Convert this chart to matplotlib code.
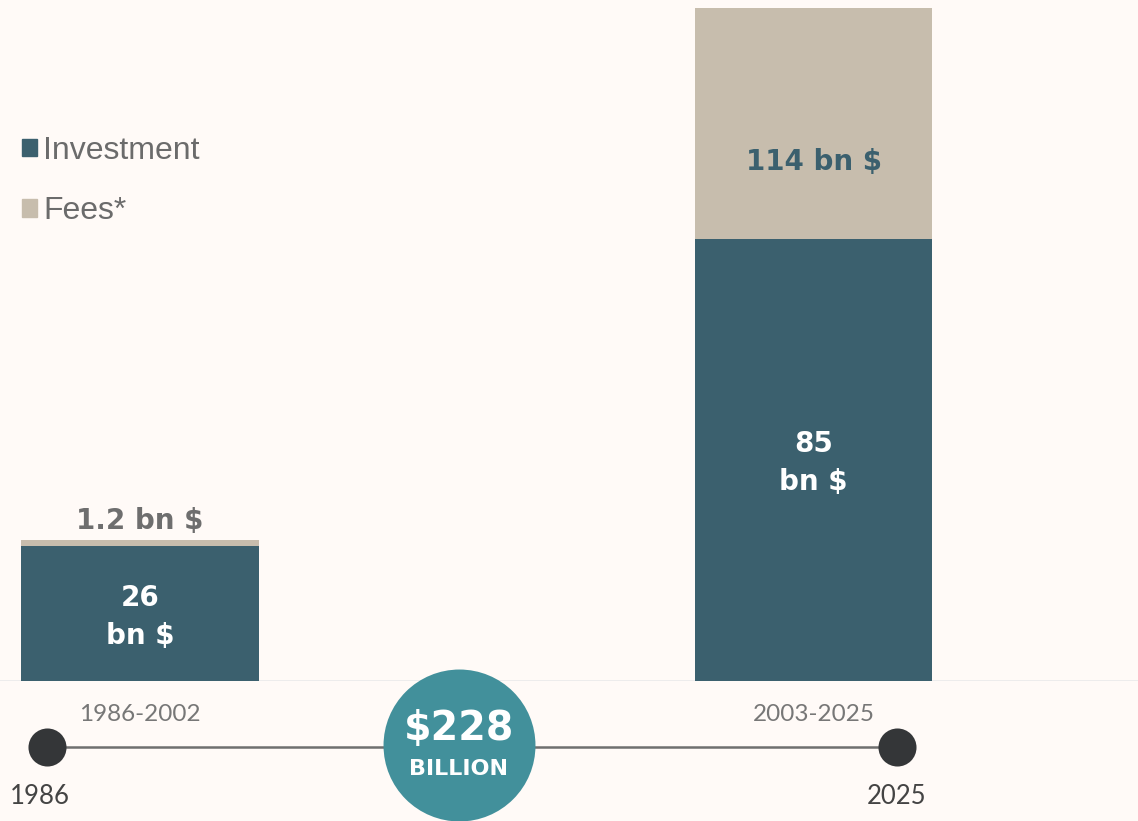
import matplotlib.pyplot as plt
from matplotlib.patches import Patch

# data
periods = ["1986-2002", "2003-2025"]
investment = [26, 85]
fees = [1.2, 114]
invest_labels = ["26\nbn $", "85\nbn $"]
fee_labels = ["1.2 bn $", "114 bn $"]
start_year, end_year = 1986, 2025
total_label = "$228"

c_inv = "#3b606e"
c_fee = "#c7bdad"
bg = "#fffaf7"

fig = plt.figure(figsize=(11.38, 8.21), dpi=100, facecolor=bg)
W, H = 1138, 821

# bar axes: baseline at y=681px, top at y=8px
ax = fig.add_axes([0, (H - 681) / H, 1, (681 - 8) / H])
ax.set_facecolor(bg)
x = [0, 1]
ax.bar(x, investment, width=0.352, color=c_inv, zorder=3)
ax.bar(x, fees, bottom=investment, width=0.352, color=c_fee, zorder=3)
ax.set_xlim(-0.2079, 1.4818)
ax.set_ylim(0, 129.4)
ax.axhline(0, color="#ebebeb", lw=2, zorder=2)
for s in ax.spines.values():
    s.set_visible(False)
ax.set_xticks([])
ax.set_yticks([])

bold = dict(family="DejaVu Sans", fontweight="bold", fontsize=20)
for i in x:
    ax.annotate(invest_labels[i], (i, investment[i] / 2), xytext=(0, -2.5),
                textcoords="offset points", ha="center", va="center",
                color="white", linespacing=1.45, zorder=4, **bold)
    ax.text(i, -6.4, periods[i], ha="center", va="center", color="#777777",
            family="Lato", fontsize=17.5, clip_on=False)
# fee labels
ax.annotate(fee_labels[0], (0, investment[0] + fees[0]), xytext=(0, 3.5),
            textcoords="offset points", ha="center", va="bottom",
            color="#6e6e6e", zorder=4, **bold)
ax.text(1, investment[1] + 14.8, fee_labels[1], ha="center", va="center",
        color=c_inv, zorder=4, **bold)

ax.legend(handles=[Patch(color=c_inv, label="Investment"),
                   Patch(color=c_fee, label="Fees*")],
          loc="upper left", bbox_to_anchor=(9 / W, 1 - 123 / H),
          bbox_transform=fig.transFigure, frameon=False,
          prop=dict(family="Liberation Sans", size=23), labelcolor="#6b6b6b",
          handlelength=0.47, handleheight=0.47, handletextpad=0.2,
          labelspacing=0.95, borderaxespad=0)

# timeline axes
tl = fig.add_axes([0, 0, 1, 1])
tl.set_facecolor("none")
ppy = 850 / (end_year - start_year)
x0 = start_year - 47 / ppy
tl.set_xlim(x0, x0 + W / ppy)
tl.set_ylim(H, 0)
tl.axis("off")
tl.plot([start_year, end_year], [747, 747], color="#6f6f6f", lw=1.8, zorder=1)
tl.scatter([start_year, end_year], [747, 747], s=750, color="#343638",
           zorder=2, linewidths=0)
for yr, dx in [(start_year, -5), (end_year, 0)]:
    tl.annotate(str(yr), (yr, 797), xytext=(dx, 0), textcoords="offset points",
                ha="center", va="center", color="#444444",
                family="Lato", fontsize=18.5)

cx = x0 + 459 / ppy
tl.scatter([cx], [745], s=11970, color="#42909b", zorder=3, linewidths=0,
           clip_on=False)
tl.text(cx, 729, total_label, ha="center", va="center", color="white",
        family="DejaVu Sans", fontweight="bold", fontsize=28.5, zorder=4)
tl.text(cx, 769, "BILLION", ha="center", va="center", color="white",
        family="DejaVu Sans", fontweight="bold", fontsize=16, zorder=4)

fig.savefig("out.png", dpi=100, facecolor=bg)
